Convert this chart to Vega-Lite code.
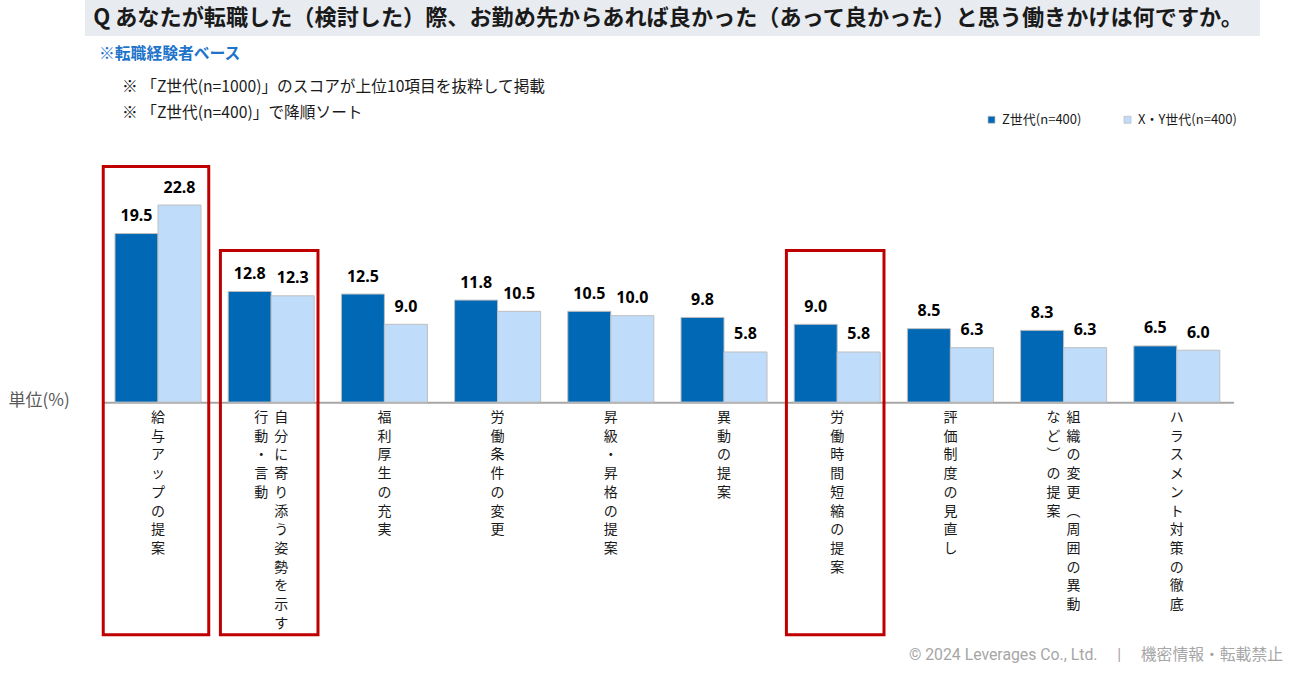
{
  "$schema": "https://vega.github.io/schema/vega-lite/v6.json",
  "autosize": {"type": "pad"},
  "padding": {"left": 8, "top": 0, "right": 0, "bottom": 0},
  "background": "white",
  "config": {
    "view": {"stroke": null},
    "font": "Noto Sans CJK JP"
  },
  "title": {
    "text": "© 2024 Leverages Co., Ltd.\u3000 |\u3000 機密情報・転載禁止",
    "orient": "bottom",
    "anchor": "end",
    "frame": "bounds",
    "font": "Roboto, Noto Sans CJK JP",
    "fontSize": 15.8,
    "fontWeight": "normal",
    "color": "#a6a6a6",
    "dx": 21,
    "offset": 8
  },
  "bounds": "flush",
  "spacing": 106.8,
  "datasets": {
    "bars": [
      {"cat": "給与アップの提案", "series": "Z世代(n=400)", "value": 19.5},
      {"cat": "給与アップの提案", "series": "X・Y世代(n=400)", "value": 22.8},
      {"cat": "自分に寄り添う姿勢を示す行動・言動", "series": "Z世代(n=400)", "value": 12.8},
      {"cat": "自分に寄り添う姿勢を示す行動・言動", "series": "X・Y世代(n=400)", "value": 12.3},
      {"cat": "福利厚生の充実", "series": "Z世代(n=400)", "value": 12.5},
      {"cat": "福利厚生の充実", "series": "X・Y世代(n=400)", "value": 9.0},
      {"cat": "労働条件の変更", "series": "Z世代(n=400)", "value": 11.8},
      {"cat": "労働条件の変更", "series": "X・Y世代(n=400)", "value": 10.5},
      {"cat": "昇級・昇格の提案", "series": "Z世代(n=400)", "value": 10.5},
      {"cat": "昇級・昇格の提案", "series": "X・Y世代(n=400)", "value": 10.0},
      {"cat": "異動の提案", "series": "Z世代(n=400)", "value": 9.8},
      {"cat": "異動の提案", "series": "X・Y世代(n=400)", "value": 5.8},
      {"cat": "労働時間短縮の提案", "series": "Z世代(n=400)", "value": 9.0},
      {"cat": "労働時間短縮の提案", "series": "X・Y世代(n=400)", "value": 5.8},
      {"cat": "評価制度の見直し", "series": "Z世代(n=400)", "value": 8.5},
      {"cat": "評価制度の見直し", "series": "X・Y世代(n=400)", "value": 6.3},
      {"cat": "組織の変更（周囲の異動など）の提案", "series": "Z世代(n=400)", "value": 8.3},
      {"cat": "組織の変更（周囲の異動など）の提案", "series": "X・Y世代(n=400)", "value": 6.3},
      {"cat": "ハラスメント対策の徹底", "series": "Z世代(n=400)", "value": 6.5},
      {"cat": "ハラスメント対策の徹底", "series": "X・Y世代(n=400)", "value": 6.0}
    ],
    "labels": [
      {"cat": "給与アップの提案", "colA": "給与アップの提案", "colB": ""},
      {"cat": "自分に寄り添う姿勢を示す行動・言動", "colA": "自分に寄り添う姿勢を示す", "colB": "行動・言動"},
      {"cat": "福利厚生の充実", "colA": "福利厚生の充実", "colB": ""},
      {"cat": "労働条件の変更", "colA": "労働条件の変更", "colB": ""},
      {"cat": "昇級・昇格の提案", "colA": "昇級・昇格の提案", "colB": ""},
      {"cat": "異動の提案", "colA": "異動の提案", "colB": ""},
      {"cat": "労働時間短縮の提案", "colA": "労働時間短縮の提案", "colB": ""},
      {"cat": "評価制度の見直し", "colA": "評価制度の見直し", "colB": ""},
      {"cat": "組織の変更（周囲の異動など）の提案", "colA": "組織の変更︵周囲の異動", "colB": "など︶の提案"},
      {"cat": "ハラスメント対策の徹底", "colA": "ハラスメント対策の徹底", "colB": ""}
    ],
    "boxes": [
      {"cat": "給与アップの提案", "top": 27.26, "bottom": -26.91, "wide": true},
      {"cat": "自分に寄り添う姿勢を示す行動・言動", "top": 17.53, "bottom": -26.91, "wide": false},
      {"cat": "労働時間短縮の提案", "top": 17.53, "bottom": -26.91, "wide": false}
    ]
  },
  "vconcat": [
    {
      "width": 1175,
      "height": 36,
      "view": {"fill": "#e8ecf1", "stroke": null},
      "title": {
        "text": "※転職経験者ベース",
        "orient": "bottom",
        "anchor": "start",
        "frame": "group",
        "dx": 14,
        "offset": 11,
        "font": "Noto Sans CJK JP",
        "fontSize": 15.8,
        "fontWeight": "bold",
        "color": "#1e74c9"
      },
      "data": {"values": [{"q": "Q あなたが転職した（検討した）際、お勤め先からあれば良かった（あって良かった）と思う働きかけは何ですか。"}]},
      "mark": {"type": "text", "fontSize": 22.15, "fontWeight": "bold", "color": "#1a1a1a", "align": "center", "baseline": "middle", "dx": -4.5},
      "encoding": {"text": {"field": "q"}}
    },
    {
      "width": 1177,
      "height": 497,
      "title": {
        "text": [
          "※ 「Z世代(n=1000)」のスコアが上位10項目を抜粋して掲載",
          "※ 「Z世代(n=400)」で降順ソート"
        ],
        "anchor": "start",
        "frame": "group",
        "dx": 37,
        "offset": 21,
        "font": "Noto Sans CJK JP",
        "fontSize": 15.7,
        "fontWeight": "normal",
        "color": "#1a1a1a",
        "lineHeight": 26
      },
      "encoding": {
        "x": {
          "field": "cat",
          "type": "nominal",
          "sort": ["給与アップの提案", "自分に寄り添う姿勢を示す行動・言動", "福利厚生の充実", "労働条件の変更", "昇級・昇格の提案", "異動の提案", "労働時間短縮の提案", "評価制度の見直し", "組織の変更（周囲の異動など）の提案", "ハラスメント対策の徹底"],
          "scale": {"range": [16.4, 1148.4], "paddingInner": 0, "paddingOuter": 0},
          "axis": {"labels": false, "ticks": false, "grid": false, "title": null, "domain": true, "domainColor": "#a6a6a6", "domainWidth": 2, "offset": -237.6}
        }
      },
      "layer": [
        {
          "data": {"name": "bars"},
          "mark": {"type": "bar", "stroke": "#bfbfbf", "strokeWidth": 1},
          "encoding": {
            "xOffset": {"field": "series", "type": "nominal", "sort": ["Z世代(n=400)", "X・Y世代(n=400)"], "scale": {"paddingInner": 0, "paddingOuter": 0.316}},
            "y": {
              "field": "value",
              "type": "quantitative",
              "title": "単位(%)",
              "scale": {"domain": [-27.5, 30], "nice": false, "zero": false},
              "axis": {"labels": false, "ticks": false, "domain": false, "grid": false, "titleAngle": 0, "titleAlign": "left", "titleBaseline": "middle", "titleX": -77, "titleY": 257.5, "titleFontSize": 17, "titleFontWeight": "normal", "titleColor": "#595959", "titleFont": "Noto Sans CJK JP"}
            },
            "color": {
              "field": "series",
              "type": "nominal",
              "scale": {"domain": ["Z世代(n=400)", "X・Y世代(n=400)"], "range": ["#0068b5", "#bfdcfa"]},
              "legend": {"orient": "none", "legendX": 900, "legendY": 113, "direction": "horizontal", "title": null, "symbolType": "square", "symbolSize": 49, "symbolStrokeColor": "#bfbfbf", "symbolStrokeWidth": 0.8, "labelFontSize": 13, "labelFont": "Noto Sans CJK JP", "labelColor": "#1a1a1a", "labelOffset": 4, "columnPadding": 39}
            }
          }
        },
        {
          "data": {"name": "bars"},
          "mark": {"type": "text", "font": "Noto Sans", "fontSize": 16, "fontWeight": "bold", "color": "#000000", "align": "center", "baseline": "alphabetic", "dy": -12.5},
          "encoding": {
            "xOffset": {"field": "series", "type": "nominal", "sort": ["Z世代(n=400)", "X・Y世代(n=400)"]},
            "y": {"field": "value", "type": "quantitative", "title": "単位(%)"},
            "text": {"field": "value", "type": "quantitative", "format": ".1f"}
          }
        },
        {
          "data": {"name": "labels"},
          "transform": [{"filter": "datum.colB === ''"}, {"calculate": "split(datum.colA, '')", "as": "chars"}],
          "mark": {"type": "text", "fontSize": 14, "color": "#1a1a1a", "align": "center", "baseline": "top", "lineHeight": 18.7, "dy": 9},
          "encoding": {
            "y": {"datum": 0, "type": "quantitative", "title": "単位(%)"},
            "text": {"field": "chars"}
          }
        },
        {
          "data": {"name": "labels"},
          "transform": [{"filter": "datum.colB !== ''"}, {"calculate": "split(datum.colA, '')", "as": "chars"}],
          "mark": {"type": "text", "fontSize": 14, "color": "#1a1a1a", "align": "center", "baseline": "top", "lineHeight": 18.7, "dy": 9, "dx": 10},
          "encoding": {
            "y": {"datum": 0, "type": "quantitative", "title": "単位(%)"},
            "text": {"field": "chars"}
          }
        },
        {
          "data": {"name": "labels"},
          "transform": [{"filter": "datum.colB !== ''"}, {"calculate": "split(datum.colB, '')", "as": "chars"}],
          "mark": {"type": "text", "fontSize": 14, "color": "#1a1a1a", "align": "center", "baseline": "top", "lineHeight": 18.7, "dy": 9, "dx": -10},
          "encoding": {
            "y": {"datum": 0, "type": "quantitative", "title": "単位(%)"},
            "text": {"field": "chars"}
          }
        },
        {
          "data": {"name": "boxes"},
          "transform": [{"filter": "datum.wide"}],
          "mark": {"type": "rect", "filled": false, "stroke": "#c00000", "strokeWidth": 3, "width": {"band": 0.932}, "xOffset": -2},
          "encoding": {
            "y": {"field": "top", "type": "quantitative", "title": "単位(%)"},
            "y2": {"field": "bottom"}
          }
        },
        {
          "data": {"name": "boxes"},
          "transform": [{"filter": "!datum.wide"}],
          "mark": {"type": "rect", "filled": false, "stroke": "#c00000", "strokeWidth": 3, "width": {"band": 0.862}, "xOffset": -2},
          "encoding": {
            "y": {"field": "top", "type": "quantitative", "title": "単位(%)"},
            "y2": {"field": "bottom"}
          }
        }
      ]
    }
  ]
}
